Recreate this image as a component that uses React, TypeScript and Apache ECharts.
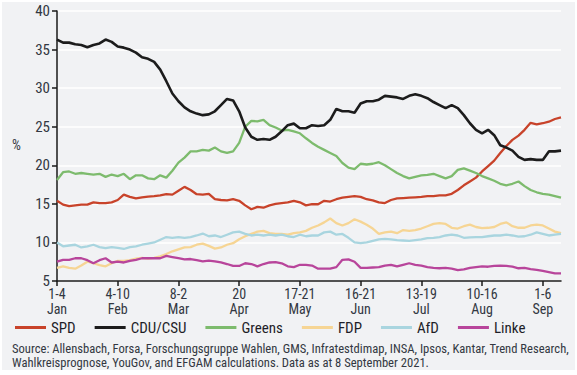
import React, { useEffect, useRef } from "react";
import * as echarts from "echarts";

const tickLabels = ["1-4\nJan", "4-10\nFeb", "8-2\nMar", "20\nApr", "17-21\nMay", "16-21\nJun", "13-19\nJul", "10-16\nAug", "1-6\nSep"];
const yTicks = [5, 10, 15, 20, 25, 30, 35, 40];

const spd = [
  15.4, 14.9, 14.7, 14.8, 14.9, 14.9, 15.2, 15.1, 15.1, 15.2,
  15.5, 16.2, 15.9, 15.7, 15.85, 15.95, 16.0, 16.1, 16.25, 16.2,
  16.7, 17.2, 16.8, 16.25, 16.2, 16.3, 15.6, 15.5, 15.45, 15.6,
  15.4, 14.8, 14.3, 14.6, 14.5, 14.8, 15.0, 15.1, 15.2, 15.4,
  15.2, 14.8, 14.95, 14.95, 15.4, 15.3, 15.6, 15.8, 15.9, 16.0,
  15.9, 15.6, 15.45, 15.2, 15.1, 15.5, 15.7, 15.75, 15.8, 15.85,
  15.9, 16.0, 16.0, 16.1, 16.1, 16.3, 16.8, 17.4, 17.9, 18.4,
  19.2, 19.9, 20.6, 21.6, 22.5, 23.3, 23.85, 24.6, 25.5, 25.3,
  25.45, 25.65, 26.0, 26.2,
];
const cdu = [
  36.3, 35.9, 35.9, 35.7, 35.6, 35.3, 35.6, 35.8, 36.3, 36.0,
  35.4, 35.25, 35.0, 34.6, 34.0, 33.8, 33.4, 32.4, 30.9, 29.3,
  28.3, 27.5, 27.0, 26.7, 26.5, 26.6, 27.0, 27.8, 28.6, 28.4,
  27.0, 24.9, 23.7, 23.3, 23.4, 23.3, 23.7, 24.4, 25.2, 25.4,
  24.8, 24.8, 25.2, 25.1, 25.2, 25.9, 27.3, 27.0, 27.0, 26.8,
  28.0, 28.3, 28.3, 28.5, 29.0, 28.9, 28.8, 28.6, 29.0, 29.2,
  29.0, 28.7, 28.2, 27.8, 27.4, 27.8, 27.4, 26.5, 25.45, 24.6,
  24.15, 24.6, 23.9, 22.6, 22.3, 21.9, 21.1, 20.7, 20.8, 20.7,
  20.7, 21.8, 21.8, 21.9,
];
const greens = [
  18.1, 19.1, 19.2, 18.9, 19.0, 18.9, 18.8, 18.9, 18.5, 18.8,
  18.6, 18.9, 18.2, 18.7, 18.7, 18.3, 18.2, 18.7, 18.4, 19.3,
  20.35, 21.0, 21.8, 21.8, 22.0, 21.9, 22.3, 21.8, 21.6, 21.8,
  22.9, 25.0, 25.75, 25.7, 25.9, 25.2, 24.9, 24.5, 24.6, 24.4,
  24.15, 23.5, 22.9, 22.4, 22.0, 21.6, 21.2, 20.3, 19.7, 19.5,
  20.2, 20.1, 20.2, 20.4, 20.0, 19.5, 19.0, 18.6, 18.3, 18.5,
  18.7, 18.75, 18.9, 18.6, 18.3, 18.6, 19.4, 19.6, 19.3, 19.0,
  18.6, 18.3, 18.0, 17.6, 17.4, 17.6, 17.9, 17.3, 16.8, 16.5,
  16.3, 16.2, 16.0, 15.8,
];
const fdp = [
  6.7, 6.9, 6.7, 6.6, 7.0, 7.5, 7.3, 7.05, 6.9, 7.3,
  7.6, 7.6, 7.7, 7.9, 8.0, 7.9, 8.0, 8.2, 8.5, 8.85,
  9.1, 9.35, 9.4, 9.7, 9.85, 9.55, 9.2, 9.35, 9.7, 9.9,
  10.4, 10.8, 11.1, 11.4, 11.5, 11.2, 11.1, 11.1, 11.0, 11.2,
  11.3, 11.5, 11.9, 12.2, 12.6, 13.1, 12.5, 12.2, 12.5, 13.0,
  12.7, 12.3, 11.8, 11.1, 11.3, 11.4, 11.2, 11.6, 11.5, 11.6,
  11.8, 12.1, 12.4, 12.5, 12.4, 11.9, 11.8, 12.1, 12.3, 12.0,
  11.85, 11.9, 12.0, 12.4, 12.6, 12.1, 11.9, 11.9, 12.2, 12.3,
  12.2, 11.8, 11.4, 11.2,
];
const afd = [
  10.0, 9.5, 9.6, 9.7, 9.35, 9.5, 9.7, 9.4, 9.25, 9.4,
  9.3, 9.15, 9.4, 9.5, 9.7, 9.85, 10.0, 10.35, 10.7, 10.6,
  10.7, 10.6, 10.7, 10.9, 11.15, 10.8, 10.9, 10.7, 11.0, 11.3,
  11.4, 11.1, 10.9, 11.0, 10.9, 11.0, 10.9, 11.0, 10.8, 10.7,
  11.0, 10.8, 10.9, 10.9, 11.3, 11.4, 11.0, 11.1, 10.6, 10.0,
  9.9, 10.0, 10.2, 10.4, 10.45, 10.4, 10.3, 10.25, 10.2, 10.3,
  10.4, 10.55, 10.6, 10.7, 10.9, 11.0, 10.9, 10.6, 10.65, 10.7,
  10.7, 10.8, 10.9, 10.9, 11.0, 10.9, 10.75, 10.8, 11.0, 11.3,
  11.1, 10.9, 11.0, 11.1,
];
const linke = [
  7.5, 7.75, 7.75, 7.95, 7.95, 7.7, 7.3, 7.7, 7.95, 7.4,
  7.5, 7.4, 7.6, 7.75, 7.95, 7.95, 7.95, 7.95, 8.25, 8.1,
  7.95, 7.8, 7.85, 7.7, 7.55, 7.65, 7.55, 7.4, 7.2, 6.95,
  6.95, 7.3, 7.2, 6.9, 7.2, 7.4, 7.45, 7.3, 6.9, 6.8,
  7.1, 7.1, 7.0, 6.6, 6.6, 6.6, 6.8, 7.75, 7.8, 7.5,
  6.7, 6.7, 6.75, 6.8, 7.0, 7.1, 6.9, 7.1, 7.3, 7.1,
  7.0, 6.8, 6.7, 6.65, 6.7, 6.6, 6.4, 6.5, 6.7, 6.8,
  6.9, 6.85, 6.95, 7.0, 6.95, 6.85, 6.65, 6.7, 6.55, 6.45,
  6.3, 6.15, 6.0, 6.0,
];

const seriesNames = ["SPD", "CDU/CSU", "Greens", "FDP", "AfD", "Linke"];
const seriesData = [spd, cdu, greens, fdp, afd, linke];
const seriesColors = ["#c8432a", "#1c1c1c", "#7dbb6d", "#f6d594", "#a9d5df", "#b8459b"];
const seriesWidths = [2.3, 2.6, 2.3, 2.3, 2.3, 2.3];

const sourceLines = [
  "Source: Allensbach, Forsa, Forschungsgruppe Wahlen, GMS, Infratestdimap, INSA, Ipsos, Kantar, Trend Research,",
  "Wahlkreisprognose, YouGov, and EFGAM calculations. Data as at 8 September 2021.",
];

const STEP = 10;
const FONT = "'Liberation Sans Narrow', 'Roboto Condensed', 'DejaVu Sans Condensed', 'Noto Sans', sans-serif";

export default function App() {
  const ref = useRef<HTMLDivElement>(null);
  useEffect(() => {
    document.body.style.margin = "0";
    if (!ref.current) return;
    const chart = echarts.init(ref.current, undefined, { renderer: "svg" });
    const categories = spd.map((_, i) => String(i));
    chart.setOption({
      animation: false,
      backgroundColor: "#ffffff",
      textStyle: { fontFamily: FONT },
      graphic: [
        { type: "rect", z: -10, shape: { x: 2, y: 2, width: 573, height: 368 }, style: { fill: "#f1f2f4" } },
        { type: "text", left: 12, top: 138, style: { text: "%", fontSize: 14, fill: "#333842", fontFamily: FONT } },
        {
          type: "text",
          left: 12,
          top: 342,
          style: { text: sourceLines.join("\n"), fontSize: 12.6, lineHeight: 13.5, fill: "#333842", fontFamily: FONT },
        },
      ],
      grid: { left: 57, right: 16, top: 11, bottom: 94, containLabel: false },
      legend: {
        data: seriesNames,
        left: 15,
        top: 320,
        padding: 0,
        icon: "rect",
        itemWidth: 31,
        itemHeight: 3,
        itemGap: 19,
        textStyle: { fontSize: 15, lineHeight: 15, color: "#1e1e28", fontFamily: FONT, padding: [0, 0, 0, 0] },
      },
      xAxis: {
        type: "category",
        data: categories,
        boundaryGap: false,
        axisLine: { lineStyle: { color: "#1a1a1a", width: 1.5 } },
        axisTick: { interval: STEP - 1, length: 5, lineStyle: { color: "#1a1a1a", width: 1.5 } },
        axisLabel: {
          interval: STEP - 1,
          formatter: (_v: string, i: number) => tickLabels[i / STEP] ?? "",
          fontSize: 14,
          lineHeight: 15,
          color: "#333842",
          margin: 5,
          fontFamily: FONT,
        },
        splitLine: { show: false },
      },
      yAxis: {
        type: "value",
        min: yTicks[0],
        max: yTicks[yTicks.length - 1],
        interval: 5,
        axisLine: { show: true, lineStyle: { color: "#1a1a1a", width: 1.5 } },
        axisTick: { show: true, length: 5, lineStyle: { color: "#1a1a1a", width: 1.5 } },
        axisLabel: { fontSize: 15, color: "#333842", margin: 7, fontFamily: FONT },
        splitLine: { show: true, lineStyle: { color: "#ffffff", width: 1.5 } },
      },
      series: seriesNames.map((name, i) => ({
        name,
        type: "line",
        data: seriesData[i],
        symbol: "none",
        smooth: false,
        lineStyle: { color: seriesColors[i], width: seriesWidths[i] },
        itemStyle: { color: seriesColors[i] },
        z: 2 + (i === 1 ? 1 : 0),
      })),
    });
    return () => chart.dispose();
  }, []);
  return <div ref={ref} style={{ width: 577, height: 375 }} />;
}
